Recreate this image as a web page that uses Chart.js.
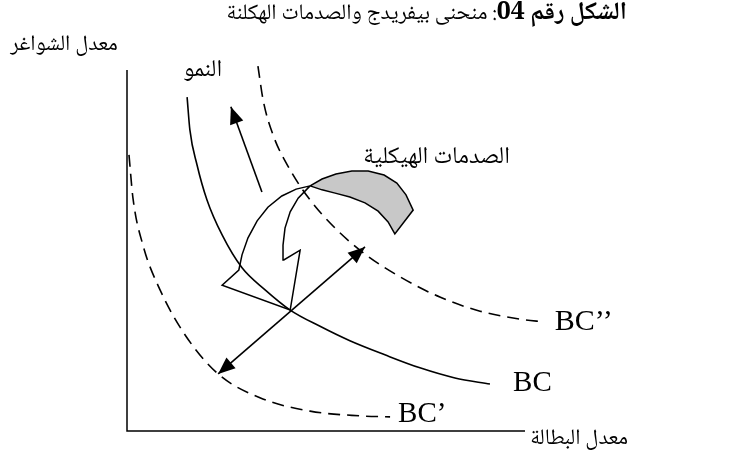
<!DOCTYPE html>
<html>
<head>
<meta charset="utf-8">
<script src="https://cdn.jsdelivr.net/npm/chart.js@4.4.1/dist/chart.umd.min.js"></script>
<style>
  body { margin: 0; background: #fff; }
  #wrap { width: 741px; height: 469px; }
</style>
</head>
<body>
<div id="wrap"><canvas id="beveridge" width="741" height="469"></canvas></div>
<script>
// Beveridge curves (x = unemployment, y = vacancies), arbitrary units 0..10
const bcX = [1.51, 1.58, 1.76, 2.01, 2.39, 2.89, 3.47, 4.10, 4.85, 5.60, 6.48, 7.36, 8.24, 9.12];
const bcY = [9.25, 8.34, 7.37, 6.40, 5.43, 4.52, 3.91, 3.35, 2.90, 2.50, 2.11, 1.75, 1.47, 1.30];

const bcOuterX = [3.29, 3.42, 3.67, 4.10, 4.60, 5.23, 5.98, 6.86, 7.86, 8.87, 9.87, 10.50];
const bcOuterY = [10.11, 9.17, 8.20, 7.23, 6.40, 5.62, 4.90, 4.27, 3.71, 3.32, 3.10, 3.02];

const bcInnerX = [0.05, 0.15, 0.40, 0.83, 1.46, 2.29, 3.34, 4.60, 5.85, 6.61];
const bcInnerY = [7.65, 6.45, 5.15, 3.91, 2.66, 1.58, 0.92, 0.55, 0.42, 0.39];

// arrows: [tailX, tailY, tipX, tipY]
const growthArrow = [3.39, 6.62, 2.61, 8.98];
const shiftArrow = [2.29, 1.58, 5.98, 5.10];

// curved "structural shock" block arrow
const shockFrontX = [4.60, 4.25, 3.89, 3.54, 3.27, 3.04, 2.89, 2.81, 2.39, 4.10, 4.35, 3.94, 3.92, 3.97, 4.10, 4.30, 4.60];
const shockFrontY = [6.79, 6.70, 6.51, 6.20, 5.82, 5.35, 4.88, 4.46, 4.04, 3.35, 5.01, 4.74, 5.15, 5.62, 6.07, 6.45, 6.79];
const shockBackX = [4.60, 4.90, 5.25, 5.65, 6.06, 6.46, 6.78, 7.01, 7.19, 6.73, 6.56, 6.31, 5.98, 5.60, 5.23, 4.90, 4.60];
const shockBackY = [6.79, 6.98, 7.12, 7.20, 7.20, 7.09, 6.87, 6.54, 6.12, 5.46, 5.79, 6.09, 6.32, 6.48, 6.59, 6.68, 6.79];

const axisX = [0, 0, 10];
const axisY = [10, 0, 0];

// labels: [text, x, y, align, font]
const arFont = "'Noto Naskh Arabic', 'DejaVu Sans', sans-serif";
const labels = [
  ['BC\u2019\u2019', 10.75, 3.02, 'left', '30px "Liberation Serif"'],
  ['BC', 9.70, 1.33, 'left', '29px "Liberation Serif"'],
  ['BC\u2019', 6.81, 0.47, 'left', '29px "Liberation Serif"'],
  ['الصدمات الهيكلية', 9.62, 7.51, 'right', '24px ' + arFont],
  ['النمو', 2.39, 9.92, 'right', '24px ' + arFont],
  ['معدل الشواغر', -0.23, 10.64, 'right', '22px ' + arFont],
  ['معدل البطالة', 10.13, -0.28, 'left', '22px ' + arFont]
];
const titleBold = 'الشكل رقم 04';
const titleRest = ': منحنى بيفريدج والصدمات الهكلنة';
const titleAt = [12.56, 11.5];

const pts = (xs, ys) => xs.map((v, i) => ({ x: v, y: ys[i] }));

const drawHead = (ctx, x0, y0, x1, y1, len, half) => {
  const a = Math.atan2(y1 - y0, x1 - x0);
  ctx.beginPath();
  ctx.moveTo(x1, y1);
  ctx.lineTo(x1 - len * Math.cos(a) + half * Math.sin(a), y1 - len * Math.sin(a) - half * Math.cos(a));
  ctx.lineTo(x1 - len * Math.cos(a) - half * Math.sin(a), y1 - len * Math.sin(a) + half * Math.cos(a));
  ctx.closePath();
  ctx.fill();
};

const annotate = {
  id: 'annotate',
  afterDatasetsDraw(chart) {
    const { ctx, scales: { x, y } } = chart;
    const px = arr => arr.map((v, i) => i % 2 ? y.getPixelForValue(v) : x.getPixelForValue(v));
    ctx.save();
    ctx.fillStyle = '#000';
    ctx.strokeStyle = '#000';
    ctx.lineWidth = 1.6;

    // growth arrow
    let [ax, ay, bx, by] = px(growthArrow);
    ctx.beginPath(); ctx.moveTo(ax, ay); ctx.lineTo(bx, by); ctx.stroke();
    drawHead(ctx, ax, ay, bx, by, 17, 7);

    // double-headed shift arrow
    [ax, ay, bx, by] = px(shiftArrow);
    ctx.beginPath(); ctx.moveTo(ax, ay); ctx.lineTo(bx, by); ctx.stroke();
    drawHead(ctx, ax, ay, bx, by, 17, 7);
    drawHead(ctx, bx, by, ax, ay, 17, 7);

    // labels
    ctx.textBaseline = 'middle';
    labels.forEach(([t, lx, ly, al, f]) => {
      ctx.font = f;
      ctx.textAlign = al;
      ctx.direction = /[A-Z]/.test(t) ? 'ltr' : 'rtl';
      ctx.fillText(t, x.getPixelForValue(lx), y.getPixelForValue(ly));
    });

    // title: bold part on the right, the rest to its left
    const tx = x.getPixelForValue(titleAt[0]);
    const ty = y.getPixelForValue(titleAt[1]);
    ctx.direction = 'rtl';
    ctx.textAlign = 'right';
    ctx.font = 'bold 25px ' + arFont;
    ctx.fillText(titleBold, tx, ty);
    const w = ctx.measureText(titleBold).width;
    ctx.font = '22px ' + arFont;
    ctx.fillText(titleRest, tx - w, ty);
    ctx.restore();
  }
};

const curve = (data, dashed) => ({
  data, showLine: true, pointRadius: 0, borderColor: '#000', borderWidth: 1.6,
  borderDash: dashed ? [12, 7] : [], cubicInterpolationMode: 'monotone', fill: false
});
const shape = (data, bg) => ({
  data, showLine: true, pointRadius: 0, borderColor: '#000', borderWidth: 1.5,
  backgroundColor: bg, fill: 'shape', tension: 0
});

new Chart(document.getElementById('beveridge'), {
  type: 'scatter',
  data: {
    datasets: [
      { ...shape(pts(axisX, axisY), 'transparent'), fill: false },
      curve(pts(bcInnerX, bcInnerY), true),
      curve(pts(bcOuterX, bcOuterY), true),
      curve(pts(bcX, bcY), false),
      shape(pts(shockBackX, shockBackY), '#c8c8c8'),
      shape(pts(shockFrontX, shockFrontY), '#ffffff')
    ]
  },
  options: {
    responsive: false,
    animation: false,
    clip: false,
    layout: { padding: { left: 127, right: 216, top: 70, bottom: 38 } },
    plugins: { legend: { display: false }, tooltip: { enabled: false } },
    scales: {
      x: { type: 'linear', min: 0, max: 10, display: false },
      y: { type: 'linear', min: 0, max: 10, display: false }
    }
  },
  plugins: [annotate]
});
</script>
</body>
</html>
